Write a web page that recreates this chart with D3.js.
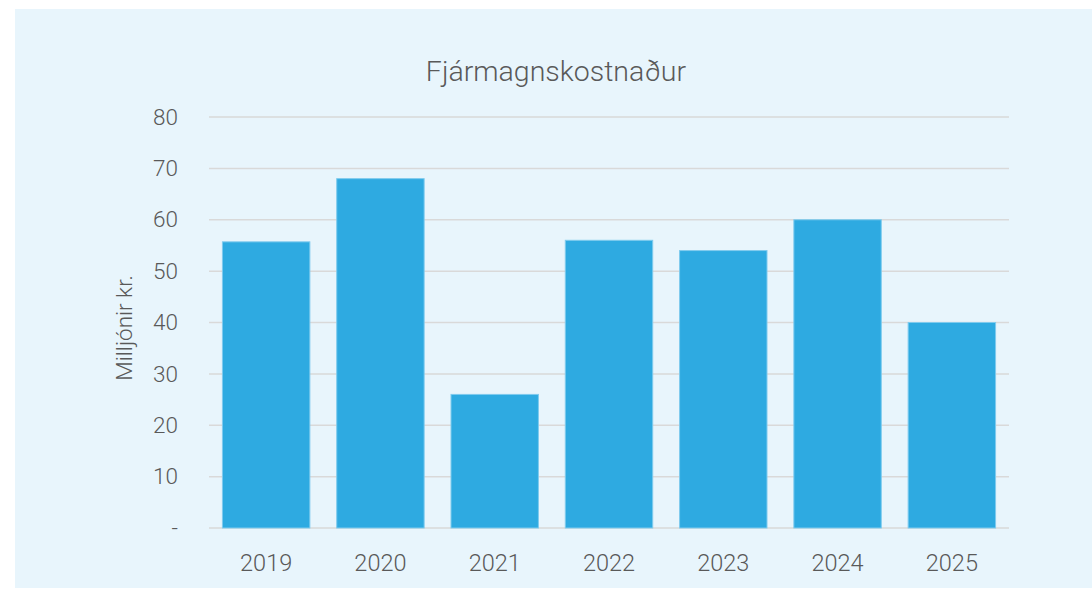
<!DOCTYPE html>
<html>
<head>
<meta charset="utf-8">
<script src="https://cdn.jsdelivr.net/npm/d3@7"></script>
<style>
  body { margin: 0; background: #fff; }
  text { font-family: Roboto, sans-serif; font-weight: 300; fill: #595959; }
</style>
</head>
<body>
<svg id="chart" width="1092" height="589"></svg>
<script>
const years = ['2019', '2020', '2021', '2022', '2023', '2024', '2025'];
const costs = [55.7, 68, 26, 56, 54, 60, 40];
const yTicks = [0, 10, 20, 30, 40, 50, 60, 70, 80];

const svg = d3.select('#chart');
const margin = { left: 209, right: 1009, top: 117, bottom: 528 };

svg.append('rect')
  .attr('x', 15).attr('y', 9)
  .attr('width', 1077).attr('height', 579)
  .attr('fill', '#e8f5fc');

const x = d3.scaleBand()
  .domain(years)
  .range([margin.left, margin.right])
  .paddingInner(0.235)
  .paddingOuter(0.1175);

const y = d3.scaleLinear()
  .domain([0, 80])
  .range([margin.bottom, margin.top]);

// gridlines
svg.append('g')
  .selectAll('line')
  .data(yTicks)
  .join('line')
  .attr('x1', margin.left)
  .attr('x2', margin.right)
  .attr('y1', d => y(d))
  .attr('y2', d => y(d))
  .attr('stroke', '#d9d9d9')
  .attr('stroke-width', 1.5);

// y axis labels
const yAxis = d3.axisLeft(y)
  .tickValues(yTicks)
  .tickSize(0)
  .tickPadding(0)
  .tickFormat(d => d === 0 ? '-' : d);

svg.append('g')
  .attr('transform', `translate(178,0)`)
  .call(yAxis)
  .call(g => g.select('.domain').remove())
  .call(g => g.selectAll('text')
    .attr('font-size', 22.5)
    .attr('font-family', 'Roboto, sans-serif')
    .attr('fill', '#595959'));

// bars
svg.append('g')
  .selectAll('rect')
  .data(years)
  .join('rect')
  .attr('x', d => x(d))
  .attr('width', x.bandwidth())
  .attr('y', (d, i) => y(costs[i]))
  .attr('height', (d, i) => y(0) - y(costs[i]))
  .attr('fill', '#2eaae1')
  .attr('stroke', '#7fcbee')
  .attr('stroke-width', 1);

// x axis labels
const xAxis = d3.axisBottom(x).tickSize(0).tickPadding(0);
svg.append('g')
  .attr('transform', `translate(0,554)`)
  .call(xAxis)
  .call(g => g.select('.domain').remove())
  .call(g => g.selectAll('text')
    .attr('font-size', 23.5)
    .attr('font-family', 'Roboto, sans-serif')
    .attr('fill', '#595959'));

// title
svg.append('text')
  .attr('x', 556).attr('y', 81)
  .attr('text-anchor', 'middle')
  .attr('font-size', 28.5)
  .text('Fjármagnskostnaður');

// y axis title
svg.append('text')
  .attr('transform', 'translate(132,328) rotate(-90)')
  .attr('text-anchor', 'middle')
  .attr('font-size', 22.5)
  .text('Milljónir kr.');
</script>
</body>
</html>
